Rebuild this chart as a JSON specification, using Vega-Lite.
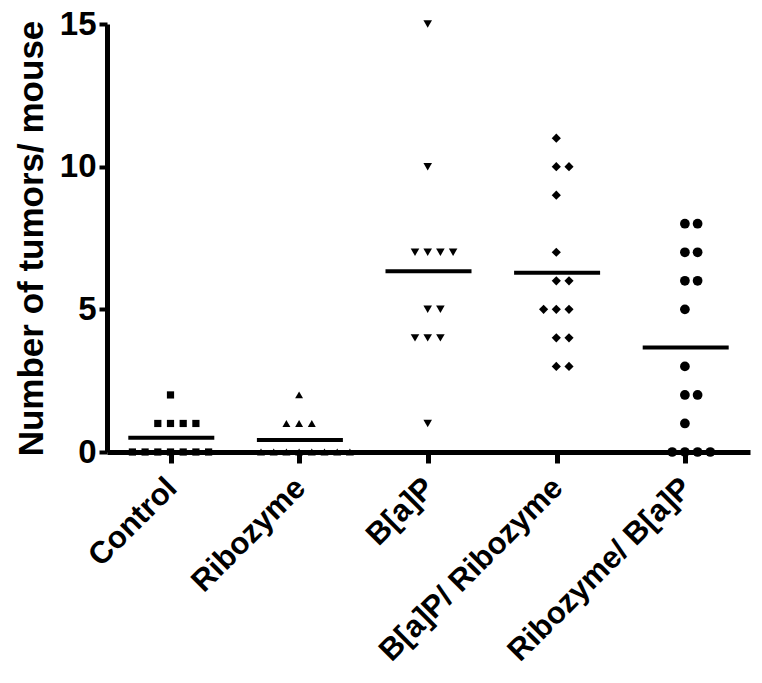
{
  "$schema": "https://vega.github.io/schema/vega-lite/v6.json",
  "width": 643,
  "height": 428,
  "autosize": {"type": "none"},
  "padding": {"left": 107, "top": 24, "right": 12, "bottom": 231},
  "background": "white",
  "config": {"view": {"stroke": null}, "font": "Liberation Sans"},
  "data": {
    "values": [
      {"group": "Control", "value": 2},
      {"group": "Control", "value": 1},
      {"group": "Control", "value": 1},
      {"group": "Control", "value": 1},
      {"group": "Control", "value": 1},
      {"group": "Control", "value": 0},
      {"group": "Control", "value": 0},
      {"group": "Control", "value": 0},
      {"group": "Control", "value": 0},
      {"group": "Control", "value": 0},
      {"group": "Control", "value": 0},
      {"group": "Control", "value": 0},
      {"group": "Ribozyme", "value": 2},
      {"group": "Ribozyme", "value": 1},
      {"group": "Ribozyme", "value": 1},
      {"group": "Ribozyme", "value": 1},
      {"group": "Ribozyme", "value": 0},
      {"group": "Ribozyme", "value": 0},
      {"group": "Ribozyme", "value": 0},
      {"group": "Ribozyme", "value": 0},
      {"group": "Ribozyme", "value": 0},
      {"group": "Ribozyme", "value": 0},
      {"group": "Ribozyme", "value": 0},
      {"group": "Ribozyme", "value": 0},
      {"group": "B[a]P", "value": 15},
      {"group": "B[a]P", "value": 10},
      {"group": "B[a]P", "value": 7},
      {"group": "B[a]P", "value": 7},
      {"group": "B[a]P", "value": 7},
      {"group": "B[a]P", "value": 7},
      {"group": "B[a]P", "value": 5},
      {"group": "B[a]P", "value": 5},
      {"group": "B[a]P", "value": 4},
      {"group": "B[a]P", "value": 4},
      {"group": "B[a]P", "value": 4},
      {"group": "B[a]P", "value": 1},
      {"group": "B[a]P/ Ribozyme", "value": 11},
      {"group": "B[a]P/ Ribozyme", "value": 10},
      {"group": "B[a]P/ Ribozyme", "value": 10},
      {"group": "B[a]P/ Ribozyme", "value": 9},
      {"group": "B[a]P/ Ribozyme", "value": 7},
      {"group": "B[a]P/ Ribozyme", "value": 6},
      {"group": "B[a]P/ Ribozyme", "value": 6},
      {"group": "B[a]P/ Ribozyme", "value": 5},
      {"group": "B[a]P/ Ribozyme", "value": 5},
      {"group": "B[a]P/ Ribozyme", "value": 5},
      {"group": "B[a]P/ Ribozyme", "value": 4},
      {"group": "B[a]P/ Ribozyme", "value": 4},
      {"group": "B[a]P/ Ribozyme", "value": 3},
      {"group": "B[a]P/ Ribozyme", "value": 3},
      {"group": "Ribozyme/ B[a]P", "value": 8},
      {"group": "Ribozyme/ B[a]P", "value": 8},
      {"group": "Ribozyme/ B[a]P", "value": 7},
      {"group": "Ribozyme/ B[a]P", "value": 7},
      {"group": "Ribozyme/ B[a]P", "value": 6},
      {"group": "Ribozyme/ B[a]P", "value": 6},
      {"group": "Ribozyme/ B[a]P", "value": 5},
      {"group": "Ribozyme/ B[a]P", "value": 3},
      {"group": "Ribozyme/ B[a]P", "value": 2},
      {"group": "Ribozyme/ B[a]P", "value": 2},
      {"group": "Ribozyme/ B[a]P", "value": 1},
      {"group": "Ribozyme/ B[a]P", "value": 0},
      {"group": "Ribozyme/ B[a]P", "value": 0},
      {"group": "Ribozyme/ B[a]P", "value": 0},
      {"group": "Ribozyme/ B[a]P", "value": 0}
    ]
  },
  "transform": [
    {"window": [{"op": "row_number", "as": "rank"}, {"op": "count", "as": "n"}], "groupby": ["group", "value"], "frame": [null, null]},
    {"calculate": "datum.rank - 1 - floor((datum.n - 1) / 2)", "as": "off"}
  ],
  "encoding": {
    "x": {
      "field": "group",
      "type": "nominal",
      "sort": ["Control", "Ribozyme", "B[a]P", "B[a]P/ Ribozyme", "Ribozyme/ B[a]P"],
      "scale": {"paddingInner": 0, "paddingOuter": 0},
      "axis": {
        "title": null,
        "domainColor": "black",
        "domainWidth": 5,
        "tickColor": "black",
        "tickWidth": 5,
        "tickSize": 11,
        "labelAngle": -45,
        "labelAlign": "right",
        "labelBaseline": "middle",
        "labelFontSize": 31,
        "labelFontWeight": "bold",
        "labelColor": "black",
        "labelPadding": 20,
        "labelOffset": 1,
        "labelLimit": 500
      }
    }
  },
  "layer": [
    {
      "mark": {"type": "point", "filled": true, "color": "black", "opacity": 1},
      "encoding": {
        "xOffset": {"field": "off", "type": "quantitative", "scale": {"domain": [-5, 5], "range": [0, 127]}},
        "y": {
          "field": "value",
          "type": "quantitative",
          "scale": {"domain": [0, 15], "nice": false},
          "axis": {
            "values": [0, 5, 10, 15],
            "title": "Number of tumors/ mouse",
            "titleFontSize": 35,
            "titleFontWeight": "bold",
            "titleColor": "black",
            "titlePadding": 10,
            "domainColor": "black",
            "domainWidth": 5,
            "tickColor": "black",
            "tickWidth": 4,
            "tickSize": 8,
            "labelFontSize": 33,
            "labelFontWeight": "bold",
            "labelColor": "black",
            "labelPadding": 3,
            "grid": false
          }
        },
        "shape": {
          "field": "group",
          "type": "nominal",
          "scale": {
            "domain": ["Control", "Ribozyme", "B[a]P", "B[a]P/ Ribozyme", "Ribozyme/ B[a]P"],
            "range": ["square", "triangle-up", "triangle-down", "diamond", "circle"]
          },
          "legend": null
        },
        "size": {
          "field": "group",
          "type": "nominal",
          "scale": {
            "domain": ["Control", "Ribozyme", "B[a]P", "B[a]P/ Ribozyme", "Ribozyme/ B[a]P"],
            "range": [52, 95, 95, 80, 45]
          },
          "legend": null
        }
      }
    },
    {
      "mark": {"type": "tick", "color": "black", "thickness": 4, "size": 86, "opacity": 1},
      "encoding": {
        "y": {"aggregate": "mean", "field": "value", "type": "quantitative"}
      }
    }
  ]
}
